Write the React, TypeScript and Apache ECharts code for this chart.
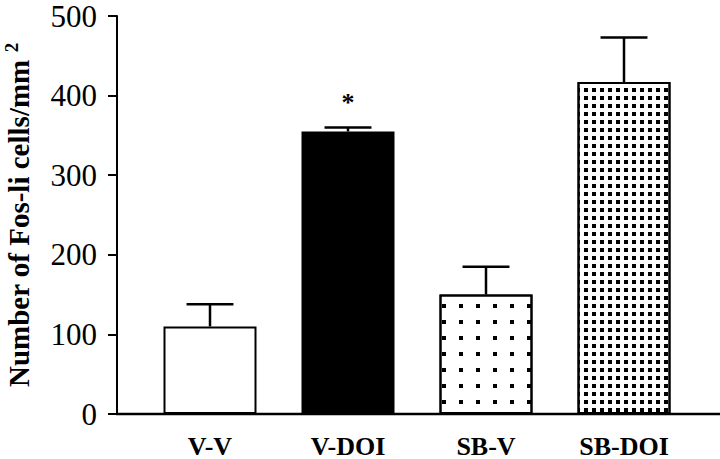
import React, { useEffect, useRef } from "react";
import * as echarts from "echarts";

const categories = ["V-V", "V-DOI", "SB-V", "SB-DOI"];
const means = [110, 355, 150, 417];
const errors = [28, 5, 35, 56];
const marks = ["", "*", "", ""];

const FONT = "'Liberation Serif', 'Times New Roman', serif";

const barStyles: any[] = [
  { color: "#ffffff" },
  { color: "#000000" },
  {
    color: "#ffffff",
    decal: {
      symbol: "rect",
      symbolSize: 1,
      color: "#000000",
      backgroundColor: "#ffffff",
      dashArrayX: [4, 13],
      dashArrayY: [4, 12],
      rotation: 0,
    },
  },
  {
    color: "#ffffff",
    decal: {
      symbol: "rect",
      symbolSize: 1,
      color: "#000000",
      backgroundColor: "#ffffff",
      dashArrayX: [4, 4],
      dashArrayY: [4, 4],
      rotation: 0,
    },
  },
];

export default function App() {
  const ref = useRef<HTMLDivElement>(null);
  useEffect(() => {
    if (!ref.current) return;
    const chart = echarts.init(ref.current, undefined, { renderer: "svg" });
    const option: any = {
      animation: false,
      backgroundColor: "#ffffff",
      grid: { left: 141, right: 27, top: 16, bottom: 45, containLabel: false, outerBoundsMode: "none" },
      xAxis: {
        type: "category",
        data: categories,
        axisLine: { show: false },
        axisTick: { show: false },
        axisLabel: {
          color: "#000",
          fontFamily: FONT,
          fontWeight: "bold",
          fontSize: 26,
          lineHeight: 26,
          margin: 19,
        },
      },
      yAxis: {
        type: "value",
        min: 0,
        max: 500,
        interval: 100,
        offset: 24,
        splitLine: { show: false },
        axisLine: { show: true, lineStyle: { color: "#000", width: 2 } },
        axisTick: { show: true, length: 9, lineStyle: { color: "#000", width: 2 } },
        axisLabel: {
          color: "#000",
          fontFamily: FONT,
          fontSize: 31,
          margin: 20,
        },
        name: "Number of Fos-li cells/mm {sup|2}",
        nameLocation: "middle",
        nameRotate: 90,
        nameGap: 82,
        nameTextStyle: {
          color: "#000",
          fontFamily: FONT,
          fontWeight: "bold",
          fontSize: 29,
          rich: {
            sup: {
              color: "#000",
              fontFamily: FONT,
              fontWeight: "bold",
              fontSize: 19,
              verticalAlign: "top",
              padding: [0, 0, 14, 0],
            },
          },
        },
      },
      graphic: [
        {
          type: "line",
          shape: { x1: 116, y1: 414, x2: 720, y2: 414 },
          style: { stroke: "#000", lineWidth: 2.5 },
          z: 10,
        },
      ],
      series: [
        {
          type: "bar",
          barWidth: 93,
          data: means.map((v, i) => ({
            value: v,
            itemStyle: { borderColor: "#000", borderWidth: 2, ...barStyles[i] },
          })),
        },
        {
          type: "custom",
          z: 5,
          data: means.map((m, i) => [i, m, errors[i]]),
          renderItem: (params: any, api: any) => {
            const i = api.value(0);
            const m = api.value(1);
            const e = api.value(2);
            const base = api.coord([i, m]);
            const top = api.coord([i, m + e]);
            const half = api.size([1, 0])[0] * 0.17;
            const children: any[] = [
              {
                type: "line",
                shape: { x1: base[0], y1: base[1], x2: top[0], y2: top[1] },
                style: { stroke: "#000", lineWidth: 2.5 },
              },
              {
                type: "line",
                shape: { x1: top[0] - half, y1: top[1], x2: top[0] + half, y2: top[1] },
                style: { stroke: "#000", lineWidth: 2.5 },
              },
            ];
            const mk = marks[params.dataIndex];
            if (mk) {
              children.push({
                type: "text",
                style: {
                  text: mk,
                  x: top[0],
                  y: top[1] - 25,
                  align: "center",
                  verticalAlign: "middle",
                  fontFamily: FONT,
                  fontWeight: "bold",
                  fontSize: 26,
                  fill: "#000",
                },
              });
            }
            return { type: "group", children };
          },
        },
      ],
    };
    chart.setOption(option);
    return () => chart.dispose();
  }, []);
  return (
    <div
      ref={ref}
      style={{ position: "fixed", left: 0, top: 0, width: 720, height: 459, background: "#fff" }}
    />
  );
}
